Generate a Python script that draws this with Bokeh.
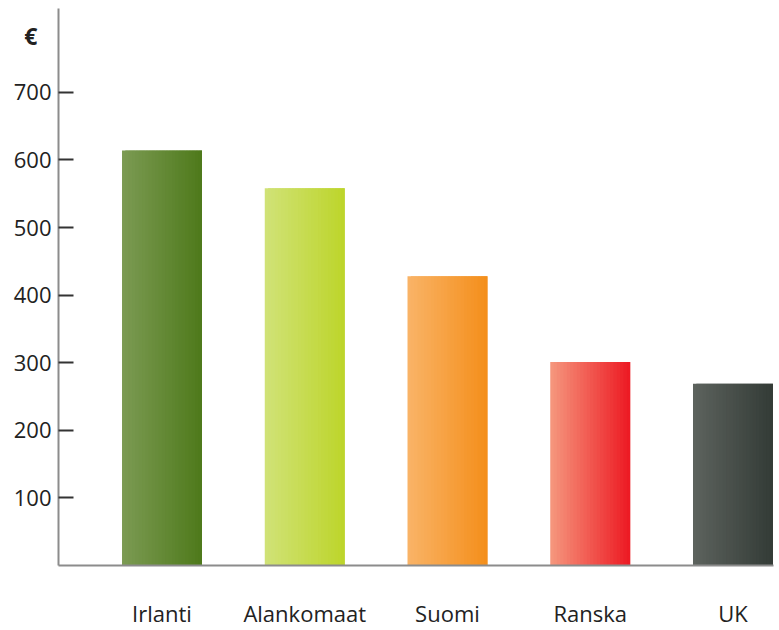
from bokeh.plotting import figure
from bokeh.models import FixedTicker, LinearAxis, Range1d
from bokeh.embed import file_html
from bokeh.resources import INLINE

categories = ["Irlanti", "Alankomaat", "Suomi", "Ranska", "UK"]
values = [614, 558, 428, 301, 269]
y_ticks = [100, 200, 300, 400, 500, 600, 700]
unit_label = "€"
unit_label_pos = 784
left_colors = ["#7b9a52", "#d0e276", "#f9b366", "#f5957c", "#5c625d"]
right_colors = ["#4f7a1c", "#bdd52c", "#f48f1c", "#ed1b24", "#343c37"]

FONT = "Open Sans"
BAR_W = 0.56
N_SLICES = 24

p = figure(width=779, height=630, output_backend="svg", toolbar_location=None,
           x_range=Range1d(-0.725, 4.284), y_range=Range1d(0, 824),
           min_border_left=58, min_border_right=6, min_border_top=8, min_border_bottom=64)
p.outline_line_color = None
p.xgrid.visible = False
p.ygrid.visible = False
p.background_fill_color = "white"


def mix(c1, c2, t):
    a = [int(c1[i:i + 2], 16) for i in (1, 3, 5)]
    b = [int(c2[i:i + 2], 16) for i in (1, 3, 5)]
    return "#%02x%02x%02x" % tuple(round(a[k] + (b[k] - a[k]) * t) for k in range(3))


lefts, rights, tops, cols = [], [], [], []
sw = BAR_W / N_SLICES
for i, v in enumerate(values):
    bar_l = i - BAR_W / 2
    bar_r = i + BAR_W / 2
    for s in range(N_SLICES):
        l = bar_l + sw * s
        lefts.append(l)
        rights.append(min(l + sw * 2.0, bar_r))
        tops.append(v)
        cols.append(mix(left_colors[i], right_colors[i], s / (N_SLICES - 1)))
p.quad(left=lefts, right=rights, top=tops, bottom=0, fill_color=cols, line_color=None)

# y axis
ya = p.yaxis[0]
ya.ticker = FixedTicker(ticks=y_ticks)
ya.minor_tick_line_color = None
ya.major_tick_in = 15
ya.major_tick_out = 0
ya.major_tick_line_color = "#333333"
ya.major_tick_line_width = 2
ya.axis_line_color = "#8c8c8c"
ya.axis_line_width = 2
ya.major_label_text_font = FONT
ya.major_label_text_font_size = "22px"
ya.major_label_text_color = "#222222"
ya.major_label_standoff = 7

# unit label as an extra, line-less axis
ua = LinearAxis(ticker=FixedTicker(ticks=[unit_label_pos]),
                major_label_overrides={unit_label_pos: unit_label},
                axis_line_color=None, major_tick_line_color=None,
                minor_tick_line_color=None,
                major_label_text_font=FONT, major_label_text_font_size="23px",
                major_label_text_font_style="bold", major_label_text_color="#222222",
                major_label_standoff=-33)
p.add_layout(ua, "left")

# x axis
xa = p.xaxis[0]
xa.ticker = FixedTicker(ticks=list(range(len(categories))))
xa.major_label_overrides = {i: c for i, c in enumerate(categories)}
xa.minor_tick_line_color = None
xa.major_tick_line_color = None
xa.axis_line_color = "#8c8c8c"
xa.axis_line_width = 2
xa.major_label_text_font = FONT
xa.major_label_text_font_size = "22px"
xa.major_label_text_color = "#222222"
xa.major_label_standoff = 26

open("out.html", "w").write(file_html(p, INLINE))
